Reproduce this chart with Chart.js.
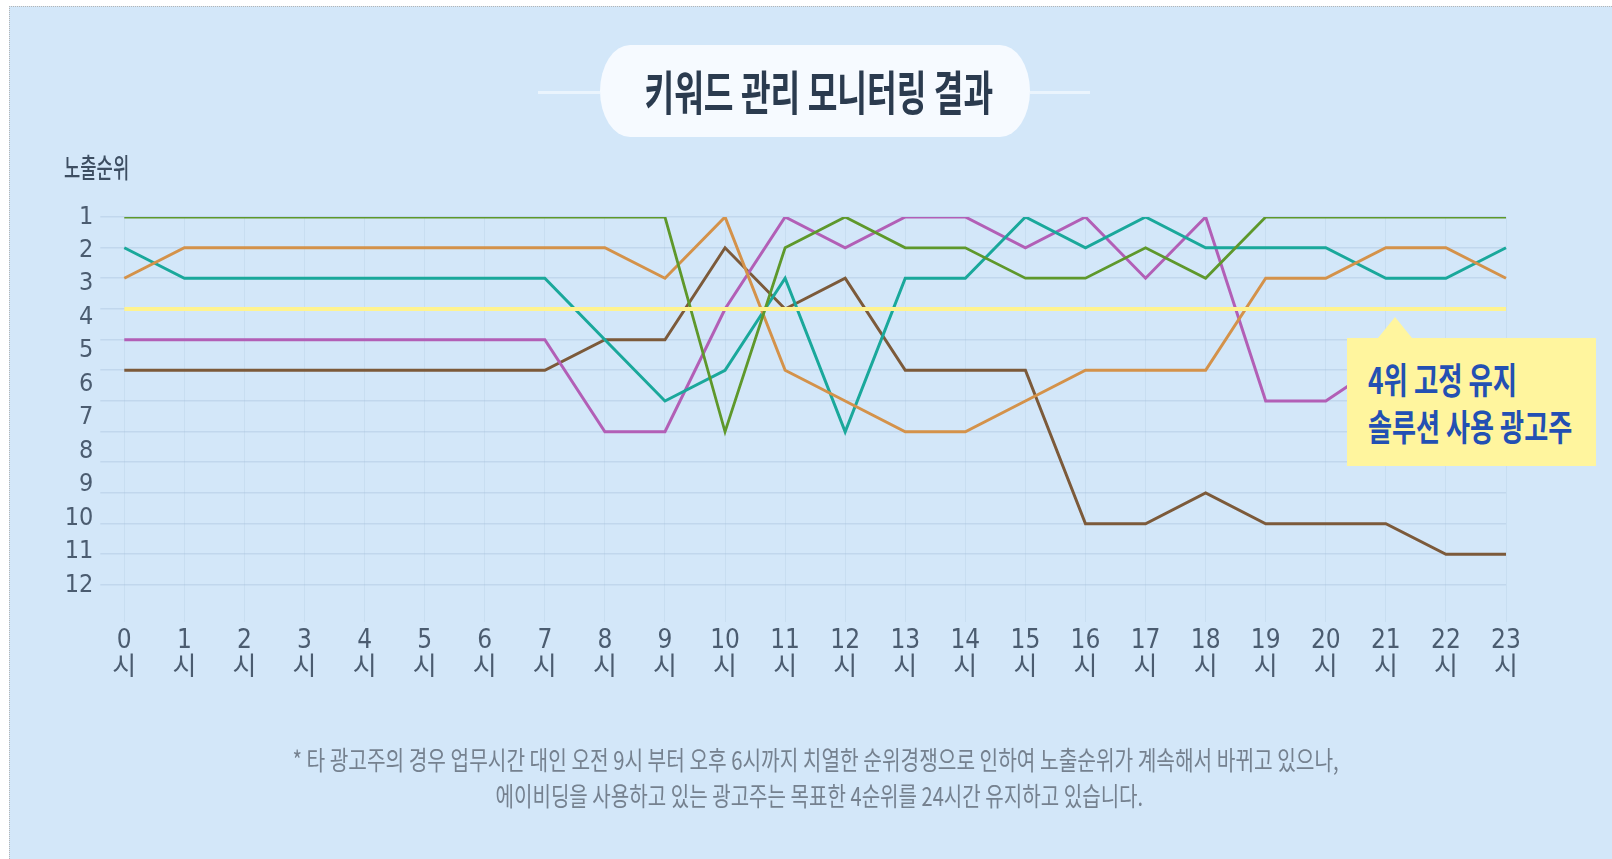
<!DOCTYPE html>
<html>
<head>
<meta charset="utf-8">
<script src="https://cdn.jsdelivr.net/npm/chart.js@4.4.1/dist/chart.umd.min.js"></script>
<style>
html,body{margin:0;padding:0;width:1612px;height:859px;overflow:hidden;background:#ffffff;}
#panel{position:absolute;left:9px;top:6px;width:1640px;height:900px;background:#d3e7f9;border-top:1px dotted #b5b5b5;border-left:1px dotted #b5b5b5;}
#chart{position:absolute;left:0;top:0;z-index:1;}
.t{position:absolute;white-space:nowrap;font-family:'Noto Sans CJK KR','Noto Sans',sans-serif;line-height:1;z-index:3;}
.hl{position:absolute;height:3px;background:#eaf4fd;top:91px;z-index:1;}
#pill{position:absolute;left:600px;top:45px;width:430px;height:92px;background:#f6faff;border-radius:30px / 46px;z-index:2;}
#title{font-size:47px;font-weight:700;color:#2b3b4f;}
#ylab{font-size:27px;font-weight:500;color:#3d4e62;}
.note{font-size:26px;font-weight:400;color:#75818f;}
#box{position:absolute;left:1347px;top:338px;width:249px;height:128px;background:#fff59e;z-index:2;}
#ptr{position:absolute;left:1378px;top:317px;width:0;height:0;border-left:17px solid transparent;border-right:17px solid transparent;border-bottom:21px solid #fff59e;z-index:2;}
.call{font-size:36px;font-weight:700;color:#2350b3;}
</style>
</head>
<body>
<div id="panel"></div>
<div class="hl" style="left:538px;width:62px;"></div>
<div class="hl" style="left:1030px;width:60px;"></div>
<div id="pill"></div>
<div class="t" id="title">키워드 관리 모니터링 결과</div>
<div class="t" id="ylab">노출순위</div>
<canvas id="chart" width="1612" height="859"></canvas>
<div id="ptr"></div>
<div id="box"></div>
<div class="t call" id="call1">4위 고정 유지</div>
<div class="t call" id="call2">솔루션 사용 광고주</div>
<div class="t note" id="note1">* 타 광고주의 경우 업무시간 대인 오전 9시 부터 오후 6시까지 치열한 순위경쟁으로 인하여 노출순위가 계속해서 바뀌고 있으나,</div>
<div class="t note" id="note2">에이비딩을 사용하고 있는 광고주는 목표한 4순위를 24시간 유지하고 있습니다.</div>
<script>
// ---- data ----
const hours = ['0','1','2','3','4','5','6','7','8','9','10','11','12','13','14','15','16','17','18','19','20','21','22','23'];
const hourSuffix = '시';
const rankTicks = [1,2,3,4,5,6,7,8,9,10,11,12];
const gridTicks = [1, 1.92, 2.83, 3.75, 4.67, 5.58, 6.5, 7.42, 8.33, 9.25, 10.17, 11.08, 12];

const targetRank = [3.75,3.75,3.75,3.75,3.75,3.75,3.75,3.75,3.75,3.75,3.75,3.75,3.75,3.75,3.75,3.75,3.75,3.75,3.75,3.75,3.75,3.75,3.75,3.75];
const greenRank  = [1,1,1,1,1,1,1,1,1,1,7.42,1.92,1,1.92,1.92,2.83,2.83,1.92,2.83,1,1,1,1,1];
const orangeRank = [2.83,1.92,1.92,1.92,1.92,1.92,1.92,1.92,1.92,2.83,1,5.58,6.5,7.42,7.42,6.5,5.58,5.58,5.58,2.83,2.83,1.92,1.92,2.83];
const tealRank   = [1.92,2.83,2.83,2.83,2.83,2.83,2.83,2.83,4.67,6.5,5.58,2.83,7.42,2.83,2.83,1,1.92,1,1.92,1.92,1.92,2.83,2.83,1.92];
const purpleRank = [4.67,4.67,4.67,4.67,4.67,4.67,4.67,4.67,7.42,7.42,3.75,1,1.92,1,1,1.92,1,2.83,1,6.5,6.5,5.3,5.3,5.3];
const brownRank  = [5.58,5.58,5.58,5.58,5.58,5.58,5.58,5.58,4.67,4.67,1.92,3.75,2.83,5.58,5.58,5.58,10.17,10.17,9.25,10.17,10.17,10.17,11.08,11.08];

const hGridColor = 'rgba(125,155,190,0.20)';
const vGridColor = 'rgba(125,155,190,0.12)';
const tickColor = '#4b5c70';
const tickFamily = "'DejaVu Sans Condensed','Roboto Condensed','Liberation Sans Narrow',Roboto,'Noto Sans CJK KR',sans-serif";

function ds(data, color, width){
  return {data, borderColor: color, backgroundColor: color, borderWidth: width, pointRadius: 0, pointHoverRadius: 0, tension: 0, fill: false, yAxisID: 'y'};
}

new Chart(document.getElementById('chart'), {
  type: 'line',
  data: {
    labels: hours,
    datasets: [
      ds(targetRank, '#fff38f', 4),
      ds(greenRank, '#5e982b', 2.8),
      ds(orangeRank, '#d4924a', 3),
      ds(tealRank, '#1aa89b', 3),
      ds(purpleRank, '#b25fb6', 3),
      ds(brownRank, '#7c5a3a', 3)
    ]
  },
  options: {
    responsive: false,
    animation: false,
    devicePixelRatio: 1,
    layout: { padding: { left: 60.3, top: 217, right: 106, bottom: 0 } },
    plugins: { legend: { display: false }, tooltip: { enabled: false } },
    events: [],
    scales: {
      x: {
        grid: { color: vGridColor, lineWidth: 1, drawTicks: true, tickLength: 37 },
        border: { display: false },
        ticks: {
          color: tickColor, autoSkip: false, maxRotation: 0, padding: 6,
          font: { family: tickFamily, size: 26, lineHeight: 1.03 },
          callback: (v, i) => [hours[i], hourSuffix]
        },
        afterFit: s => { s.height = 274; }
      },
      y: {
        position: 'left', reverse: true, min: 1, max: 12, weight: 1,
        grid: { display: false, drawTicks: false },
        border: { display: false },
        ticks: { stepSize: 1, color: tickColor, padding: 7, font: { family: tickFamily, size: 25 } },
        afterBuildTicks: s => { s.ticks = rankTicks.map(v => ({ value: v })); },
        afterFit: s => { s.width = 40; }
      },
      yGrid: {
        position: 'left', reverse: true, min: 1, max: 12, weight: 0,
        grid: { color: hGridColor, lineWidth: 1.5, drawTicks: true, tickLength: 24 },
        border: { display: false },
        ticks: { display: false },
        afterBuildTicks: s => { s.ticks = gridTicks.map(v => ({ value: v })); },
        afterFit: s => { s.width = 24; }
      }
    }
  }
});

// ---- text placement (condensed look via scaleX) ----
function place(id, o){
  const el = document.getElementById(id);
  const nw = el.offsetWidth;
  const fs = parseFloat(getComputedStyle(el).fontSize);
  const s = o.w / nw;
  el.style.top = (o.cy - fs * 0.55) + 'px';
  if (o.cx !== undefined) {
    el.style.left = (o.cx - nw / 2) + 'px';
    el.style.transformOrigin = '50% 50%';
  } else {
    el.style.left = o.left + 'px';
    el.style.transformOrigin = '0 50%';
  }
  el.style.transform = 'scaleX(' + s + ')';
}
place('title', {cx: 819, cy: 91.5, w: 349});
place('ylab', {left: 63.5, cy: 167.5, w: 65});
place('call1', {left: 1368, cy: 380, w: 149});
place('call2', {left: 1368, cy: 426.5, w: 204});
place('note1', {cx: 815, cy: 760, w: 1046});
place('note2', {cx: 819, cy: 796, w: 648});
</script>
</body>
</html>
